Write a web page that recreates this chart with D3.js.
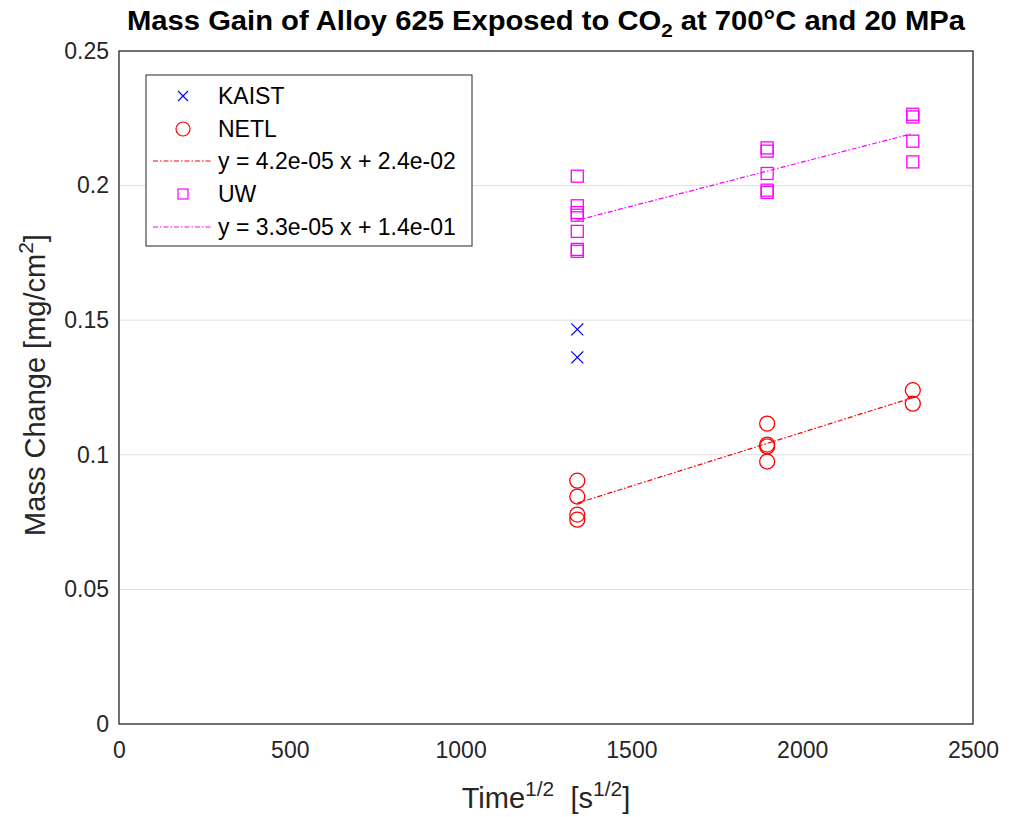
<!DOCTYPE html>
<html><head><meta charset="utf-8">
<script src="https://cdn.jsdelivr.net/npm/d3@7"></script>
<style>body{margin:0;background:#fff;} text{font-family:"Liberation Sans",Arial,sans-serif;}</style>
</head><body>
<svg id="chart" width="1018" height="817"></svg>
<script>
// ----- data -----
const xTicks = [0, 500, 1000, 1500, 2000, 2500];
const yTicks = [0, 0.05, 0.1, 0.15, 0.2, 0.25];
const xTickLabels = ["0", "500", "1000", "1500", "2000", "2500"];
const yTickLabels = ["0", "0.05", "0.1", "0.15", "0.2", "0.25"];

const kaistX = [1341.6, 1341.6];
const kaistY = [0.1466, 0.1362];

const netlX = [1341.6, 1341.6, 1341.6, 1341.6, 1897.4, 1897.4, 1897.4, 1897.4, 2323.8, 2323.8];
const netlY = [0.0904, 0.0845, 0.0778, 0.0759, 0.1116, 0.1038, 0.1031, 0.0975, 0.1240, 0.1190];

const uwX = [1341.6, 1341.6, 1341.6, 1341.6, 1341.6, 1341.6, 1341.6, 1897.4, 1897.4, 1897.4, 1897.4, 1897.4, 2323.8, 2323.8, 2323.8, 2323.8];
const uwY = [0.2035, 0.1925, 0.1900, 0.1830, 0.1763, 0.1756, 0.1890, 0.2140, 0.2128, 0.2045, 0.1983, 0.1975, 0.2265, 0.2255, 0.2165, 0.2088];

const legendLabels = ["KAIST", "NETL", "y = 4.2e-05 x + 2.4e-02", "UW", "y = 3.3e-05 x + 1.4e-01"];

// ----- layout -----
const L = 119, R = 973, T = 51, B = 724;
const svg = d3.select("#chart");
const x = d3.scaleLinear().domain([0, 2500]).range([L, R]);
const y = d3.scaleLinear().domain([0, 0.25]).range([B, T]);
const axisColor = "#262626";

// grid
svg.append("g").selectAll("line").data(yTicks.slice(1, -1)).join("line")
  .attr("x1", L).attr("x2", R).attr("y1", d => y(d)).attr("y2", d => y(d))
  .attr("stroke", "#dfdfdf").attr("stroke-width", 1);

// axes (no ticks, labels only)
const xAxis = d3.axisBottom(x).tickValues(xTicks).tickFormat((d, i) => xTickLabels[i]).tickSize(0).tickPadding(18);
const yAxis = d3.axisLeft(y).tickValues(yTicks).tickFormat((d, i) => yTickLabels[i]).tickSize(0).tickPadding(10);
const gx = svg.append("g").attr("transform", `translate(0,${B})`).call(xAxis);
const gy = svg.append("g").attr("transform", `translate(${L},0)`).call(yAxis);
[gx, gy].forEach(g => {
  g.select(".domain").remove();
  g.selectAll("text").attr("font-size", 23).attr("fill", axisColor).attr("font-family", "Liberation Sans, Arial, sans-serif");
});

// box
svg.append("rect").attr("x", L).attr("y", T).attr("width", R - L).attr("height", B - T)
  .attr("fill", "none").attr("stroke", axisColor).attr("stroke-width", 1.3);

// fits
function fit(xs, ys) {
  const mx = d3.mean(xs), my = d3.mean(ys);
  let sxy = 0, sxx = 0;
  xs.forEach((v, i) => { sxy += (v - mx) * (ys[i] - my); sxx += (v - mx) * (v - mx); });
  const m = sxy / sxx;
  return { m, b: my - m * mx, x0: d3.min(xs), x1: d3.max(xs) };
}
const fits = [{ f: fit(netlX, netlY), c: "#ff0000" }, { f: fit(uwX, uwY), c: "#ff00ff" }];
fits.forEach(({ f, c }) => {
  svg.append("line")
    .attr("x1", x(f.x0)).attr("y1", y(f.m * f.x0 + f.b))
    .attr("x2", x(f.x1)).attr("y2", y(f.m * f.x1 + f.b))
    .attr("stroke", c).attr("stroke-width", 1.2).attr("stroke-dasharray", "5,2,1.5,2");
});

// markers
const s = 6;
const kaist = svg.append("g");
kaistX.forEach((v, i) => {
  const cx = x(v), cy = y(kaistY[i]);
  kaist.append("path").attr("d", `M${cx - s},${cy - s}L${cx + s},${cy + s}M${cx - s},${cy + s}L${cx + s},${cy - s}`)
    .attr("stroke", "#0000ff").attr("stroke-width", 1.3).attr("fill", "none");
});
svg.append("g").selectAll("circle").data(netlX).join("circle")
  .attr("cx", d => x(d)).attr("cy", (d, i) => y(netlY[i])).attr("r", 7.5)
  .attr("fill", "none").attr("stroke", "#ff0000").attr("stroke-width", 1.3);
svg.append("g").selectAll("rect").data(uwX).join("rect")
  .attr("x", d => x(d) - 6).attr("y", (d, i) => y(uwY[i]) - 6).attr("width", 12).attr("height", 12)
  .attr("fill", "none").attr("stroke", "#ff00ff").attr("stroke-width", 1.3);

// legend
const lg = svg.append("g");
lg.append("rect").attr("x", 146).attr("y", 75).attr("width", 326).attr("height", 171)
  .attr("fill", "#fff").attr("stroke", axisColor).attr("stroke-width", 1);
const rowY = [96, 129, 161, 194, 227];
const mx0 = 183;
lg.append("path").attr("d", `M${mx0 - 5},${rowY[0] - 5}L${mx0 + 5},${rowY[0] + 5}M${mx0 - 5},${rowY[0] + 5}L${mx0 + 5},${rowY[0] - 5}`)
  .attr("stroke", "#0000ff").attr("stroke-width", 1.2);
lg.append("circle").attr("cx", mx0).attr("cy", rowY[1]).attr("r", 7).attr("fill", "none").attr("stroke", "#ff0000").attr("stroke-width", 1.2);
lg.append("line").attr("x1", 153).attr("x2", 212).attr("y1", rowY[2]).attr("y2", rowY[2])
  .attr("stroke", "#ff0000").attr("stroke-width", 1).attr("stroke-dasharray", "5,2,1.5,2");
lg.append("rect").attr("x", mx0 - 5).attr("y", rowY[3] - 5).attr("width", 10).attr("height", 10).attr("fill", "none").attr("stroke", "#ff00ff").attr("stroke-width", 1.2);
lg.append("line").attr("x1", 153).attr("x2", 212).attr("y1", rowY[4]).attr("y2", rowY[4])
  .attr("stroke", "#ff00ff").attr("stroke-width", 1).attr("stroke-dasharray", "5,2,1.5,2");
legendLabels.forEach((t, i) => {
  lg.append("text").attr("x", 218).attr("y", rowY[i] + 8).attr("font-size", 23).attr("fill", "#000").text(t);
});

// title
const title = svg.append("text").attr("x", 546).attr("y", 30).attr("text-anchor", "middle")
  .attr("font-family", "'Liberation Sans Narrow', 'Liberation Sans', Arial, sans-serif")
  .attr("font-size", 27).attr("font-weight", "bold").attr("fill", "#000")
  .attr("textLength", 838).attr("lengthAdjust", "spacingAndGlyphs");
title.append("tspan").text("Mass Gain of Alloy 625 Exposed to CO");
title.append("tspan").attr("dy", 7).attr("font-size", 19).text("2");
title.append("tspan").attr("dy", -7).text(" at 700°C and 20 MPa");

// x label
const xl = svg.append("text").attr("x", 546).attr("y", 808).attr("text-anchor", "middle")
  .attr("font-size", 29).attr("fill", axisColor).attr("xml:space", "preserve");
xl.append("tspan").text("Time");
xl.append("tspan").attr("dy", -12).attr("font-size", 21).text("1/2");
xl.append("tspan").attr("dy", 12).text("  [s");
xl.append("tspan").attr("dy", -12).attr("font-size", 21).text("1/2");
xl.append("tspan").attr("dy", 12).text("]");

// y label
const yl = svg.append("text").attr("transform", "translate(45,385) rotate(-90)").attr("text-anchor", "middle")
  .attr("font-size", 29).attr("fill", axisColor);
yl.append("tspan").text("Mass Change [mg/cm");
yl.append("tspan").attr("dy", -12).attr("font-size", 21).text("2");
yl.append("tspan").attr("dy", 12).text("]");
</script>
</body></html>
